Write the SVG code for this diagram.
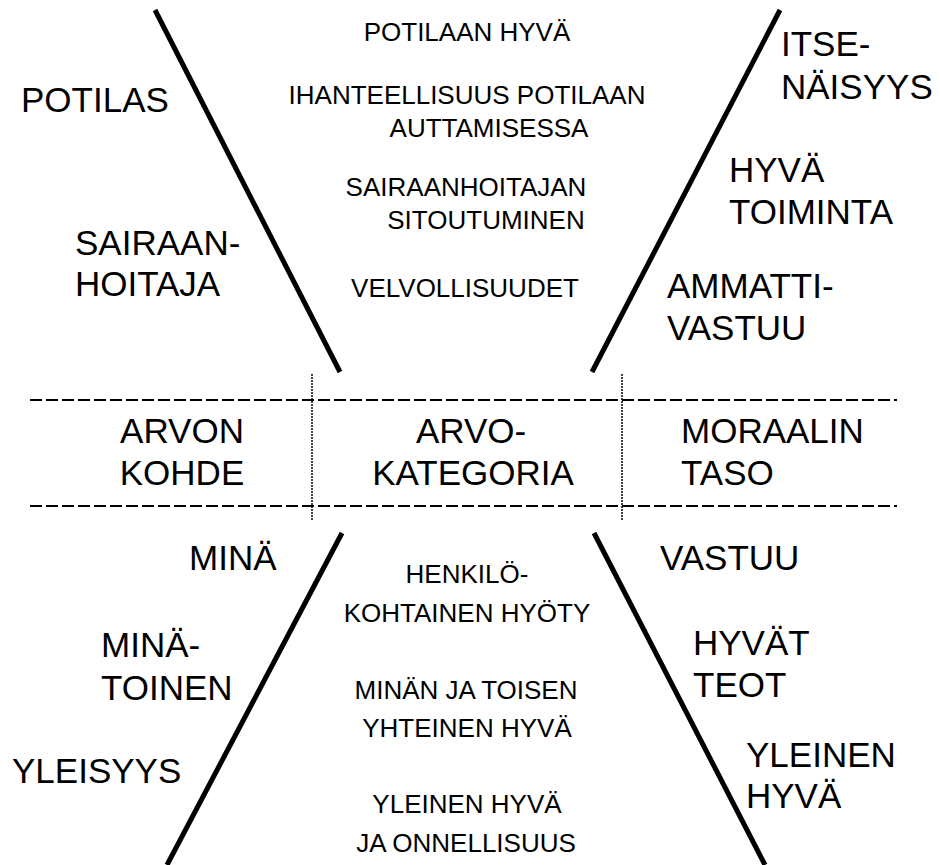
<svg xmlns="http://www.w3.org/2000/svg" width="940" height="865" viewBox="0 0 940 865">
<style>
.big{font-family:"Liberation Sans",Arial,sans-serif;font-size:35px;fill:#000}
.sm{font-family:"Liberation Sans",Arial,sans-serif;font-size:26px;fill:#000;text-anchor:middle}
.mid{text-anchor:middle}
.diag{stroke:#000;stroke-width:5;fill:none}
.dash{stroke:#000;stroke-width:2;stroke-dasharray:12 4;fill:none}
.dot{stroke:#000;stroke-width:1.5;stroke-dasharray:2 1;fill:none}
</style>
<rect width="940" height="865" fill="#fff"/>
<g id="connectors">
<line class="diag" x1="155" y1="10" x2="340" y2="372"/>
<line class="diag" x1="780" y1="10" x2="592" y2="372"/>
<line class="diag" x1="342" y1="533" x2="167" y2="865"/>
<line class="diag" x1="594" y1="533" x2="765" y2="865"/>
<line class="dash" x1="30" y1="400" x2="897" y2="400"/>
<line class="dash" x1="30" y1="506" x2="897" y2="506"/>
<line class="dot" x1="312" y1="374" x2="312" y2="520"/>
<line class="dot" x1="622" y1="374" x2="622" y2="520"/>
</g>
<g id="potilas"><text class="big" x="21" y="112">POTILAS</text></g>
<g id="sairaanhoitaja"><text class="big" x="75" y="255">SAIRAAN-</text><text class="big" x="75" y="296">HOITAJA</text></g>
<g id="potilaan-hyva"><text class="sm" x="467" y="41">POTILAAN HYVÄ</text></g>
<g id="ihanteellisuus"><text class="sm" x="467" y="104">IHANTEELLISUUS POTILAAN</text><text class="sm" x="489" y="137">AUTTAMISESSA</text></g>
<g id="sitoutuminen"><text class="sm" x="466" y="196">SAIRAANHOITAJAN</text><text class="sm" x="486" y="229">SITOUTUMINEN</text></g>
<g id="velvollisuudet"><text class="sm" x="465" y="297">VELVOLLISUUDET</text></g>
<g id="itsenaisyys"><text class="big" x="781" y="56">ITSE-</text><text class="big" x="781" y="99">NÄISYYS</text></g>
<g id="hyva-toiminta"><text class="big" x="729" y="182">HYVÄ</text><text class="big" x="729" y="224">TOIMINTA</text></g>
<g id="ammattivastuu"><text class="big" x="667" y="298">AMMATTI-</text><text class="big" x="667" y="340">VASTUU</text></g>
<g id="arvon-kohde"><text class="big mid" x="182" y="443">ARVON</text><text class="big mid" x="182" y="485">KOHDE</text></g>
<g id="arvokategoria"><text class="big mid" x="471" y="443">ARVO-</text><text class="big mid" x="473" y="485">KATEGORIA</text></g>
<g id="moraalin-taso"><text class="big" x="681" y="443">MORAALIN</text><text class="big" x="681" y="485">TASO</text></g>
<g id="mina"><text class="big" x="189" y="570">MINÄ</text></g>
<g id="mina-toinen"><text class="big" x="101" y="657">MINÄ-</text><text class="big" x="101" y="700">TOINEN</text></g>
<g id="yleisyys"><text class="big" x="12" y="783">YLEISYYS</text></g>
<g id="henkilokohtainen"><text class="sm" x="467" y="583">HENKILÖ-</text><text class="sm" x="467" y="622">KOHTAINEN HYÖTY</text></g>
<g id="yhteinen-hyva"><text class="sm" x="466" y="699">MINÄN JA TOISEN</text><text class="sm" x="467" y="737">YHTEINEN HYVÄ</text></g>
<g id="onnellisuus"><text class="sm" x="467" y="813">YLEINEN HYVÄ</text><text class="sm" x="466" y="852">JA ONNELLISUUS</text></g>
<g id="vastuu"><text class="big" x="660" y="570">VASTUU</text></g>
<g id="hyvat-teot"><text class="big" x="693" y="655">HYVÄT</text><text class="big" x="693" y="697">TEOT</text></g>
<g id="yleinen-hyva"><text class="big" x="746" y="767">YLEINEN</text><text class="big" x="746" y="808">HYVÄ</text></g>
</svg>
